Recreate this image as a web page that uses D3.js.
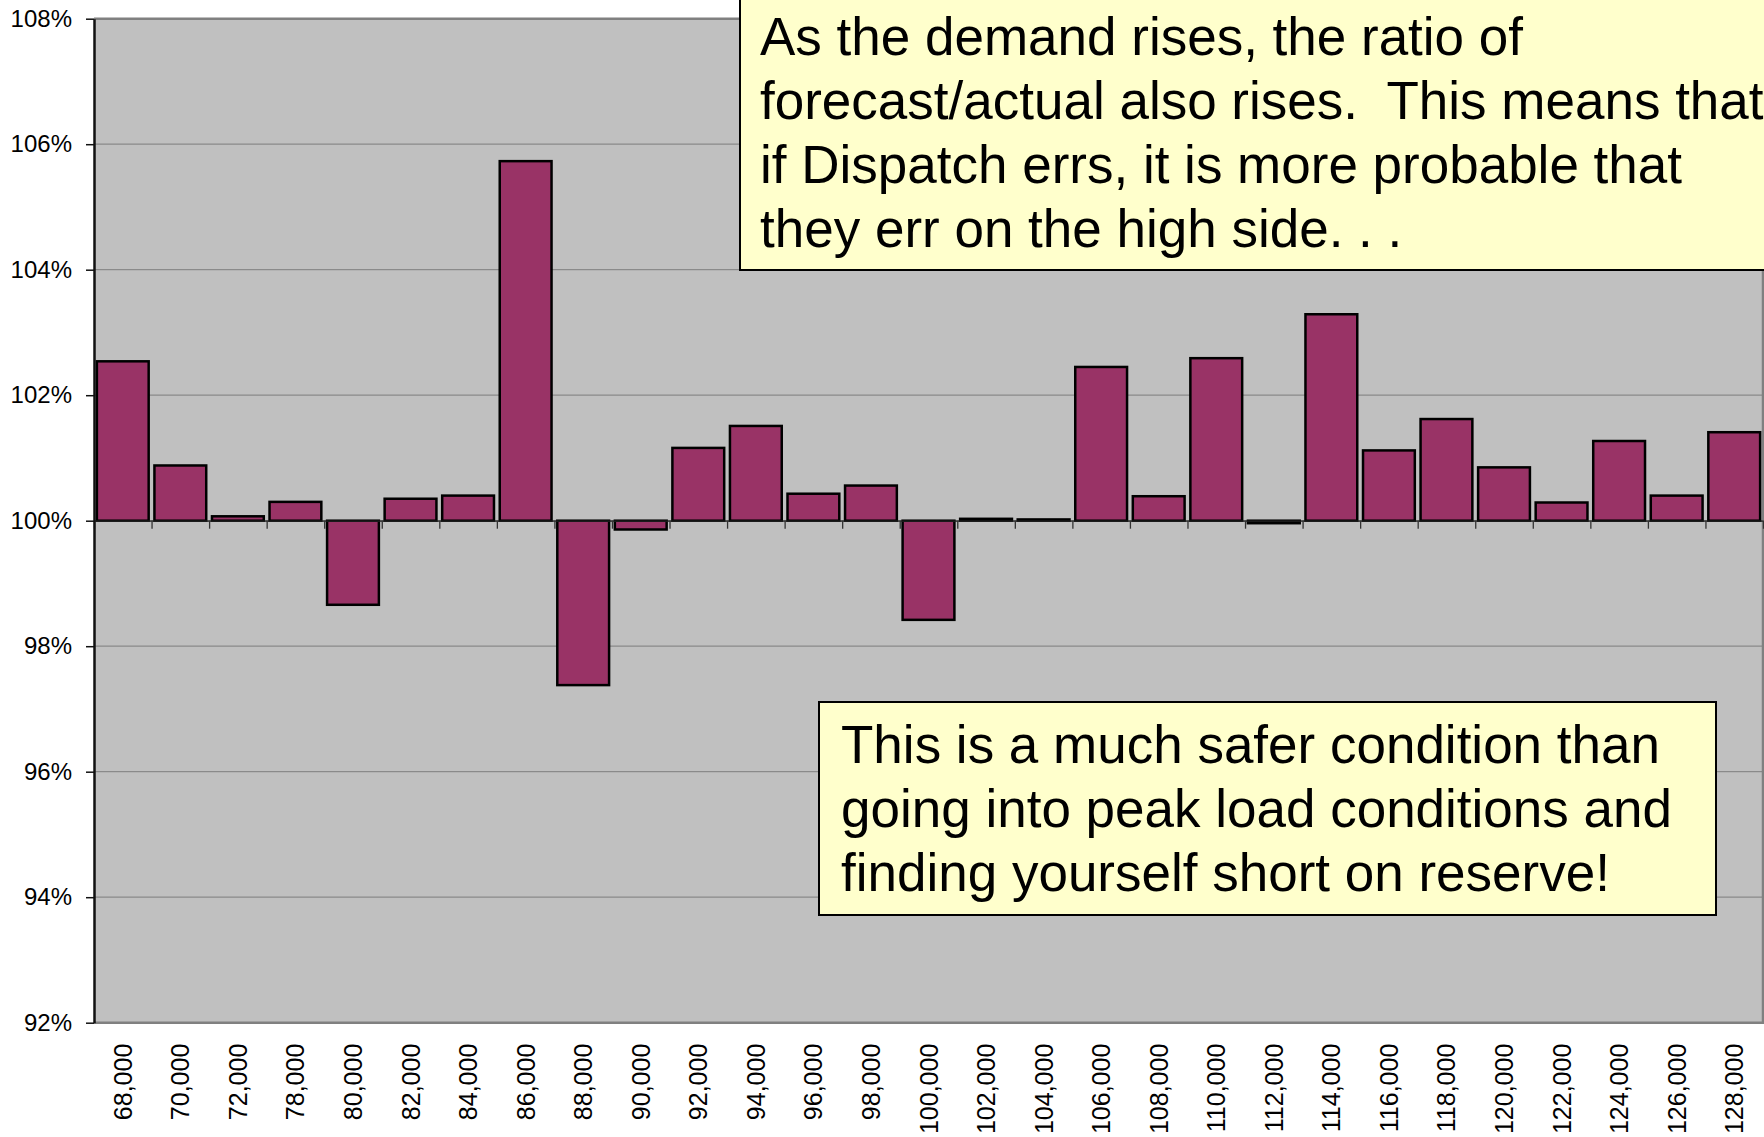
<!DOCTYPE html>
<html>
<head>
<meta charset="utf-8">
<script src="https://cdn.jsdelivr.net/npm/d3@7"></script>
<style>
  body { margin: 0; background: #fff; }
  text { font-family: "Liberation Sans", Arial, sans-serif; }
</style>
</head>
<body>
<svg id="chart"></svg>
<script>
// Data: demand bins and forecast/actual ratio
const categories = ["68,000", "70,000", "72,000", "78,000", "80,000", "82,000", "84,000", "86,000",
    "88,000", "90,000", "92,000", "94,000", "96,000", "98,000", "100,000", "102,000", "104,000",
    "106,000", "108,000", "110,000", "112,000", "114,000", "116,000", "118,000", "120,000",
    "122,000", "124,000", "126,000", "128,000"];
const ratios = [1.0254, 1.0088, 1.0007, 1.0030, 0.9866, 1.0035, 1.0040, 1.0573,
    0.9738, 0.9986, 1.0116, 1.0151, 1.0043, 1.0056, 0.9842, 1.0003, 1.0002,
    1.0245, 1.0039, 1.0259, 0.9996, 1.0329, 1.0112, 1.0162, 1.0085,
    1.0029, 1.0127, 1.0040, 1.0141];
const yTicks = [0.92, 0.94, 0.96, 0.98, 1.00, 1.02, 1.04, 1.06, 1.08];

const noteTop = ["As the demand rises, the ratio of",
    "forecast/actual also rises.  This means that",
    "if Dispatch errs, it is more probable that",
    "they err on the high side. . ."];
const noteBottom = ["This is a much safer condition than",
    "going into peak load conditions and",
    "finding yourself short on reserve!"];

const W = 1764, H = 1137;
const margin = { top: 18.7, right: 1, bottom: 114.3, left: 94 };
const width = W - margin.left - margin.right;
const height = H - margin.top - margin.bottom;

const svg = d3.select("#chart")
    .attr("width", W)
    .attr("height", H);

const g = svg.append("g")
    .attr("transform", `translate(${margin.left},${margin.top})`);

// Scales
const x = d3.scaleBand()
    .domain(categories)
    .range([0, width])
    .paddingInner(0.1)
    .paddingOuter(0.05);

const y = d3.scaleLinear()
    .domain([0.92, 1.08])
    .range([height, 0]);

// category boundaries for the tick marks on the 100% axis
const xb = d3.scaleLinear().domain([0, categories.length]).range([0, width]);

// plot background
g.append("rect")
    .attr("width", width)
    .attr("height", height)
    .attr("fill", "#c0c0c0");

// gridlines
g.append("g")
    .selectAll("line")
    .data(yTicks.filter(d => d > 0.92 && d < 1.08))
    .enter()
    .append("line")
    .attr("x1", 0)
    .attr("x2", width)
    .attr("y1", d => y(d))
    .attr("y2", d => y(d))
    .attr("stroke", "#8a8a8a")
    .attr("stroke-width", 1.3);

// plot border (top, right, bottom)
g.append("path")
    .attr("d", `M0,0H${width}V${height}H0`)
    .attr("fill", "none")
    .attr("stroke", "#808080")
    .attr("stroke-width", 2.5);

// bars
g.selectAll(".bar")
    .data(ratios)
    .enter()
    .append("rect")
    .attr("class", "bar")
    .attr("x", (d, i) => x(categories[i]))
    .attr("width", x.bandwidth())
    .attr("y", d => y(Math.max(d, 1)))
    .attr("height", d => Math.max(Math.abs(y(d) - y(1)), 0.5))
    .attr("fill", "#993366")
    .attr("stroke", "#000")
    .attr("stroke-width", 2.5);

// category axis crossing at 100%
const xAxis = g.append("g")
    .attr("transform", `translate(0,${y(1)})`)
    .call(d3.axisBottom(xb).ticks(categories.length).tickValues(d3.range(categories.length + 1))
        .tickFormat("").tickSize(8).tickSizeOuter(0));
xAxis.select(".domain").attr("stroke", "#222").attr("stroke-width", 1.3);
xAxis.selectAll(".tick line").attr("stroke", "#333").attr("stroke-width", 1.3);

// category labels below the plot
const xLab = g.append("g")
    .attr("transform", `translate(0,${height})`)
    .call(d3.axisBottom(x).tickSize(0));
xLab.select(".domain").remove();
xLab.selectAll("text")
    .attr("transform", "rotate(-90)")
    .attr("x", -21)
    .attr("y", 0)
    .attr("dy", "0.36em")
    .style("text-anchor", "end")
    .style("font-size", "25px")
    .style("font-family", "'Liberation Sans', Arial, sans-serif")
    .attr("fill", "#000");

// value axis
const yAxis = g.append("g")
    .call(d3.axisLeft(y).tickValues(yTicks).tickFormat(d3.format(".0%"))
        .tickSize(8).tickPadding(14).tickSizeOuter(0));
yAxis.select(".domain").attr("stroke", "#111").attr("stroke-width", 2.5);
yAxis.selectAll(".tick line").attr("stroke", "#111").attr("stroke-width", 1.5);
yAxis.selectAll("text")
    .style("font-size", "24px")
    .style("font-family", "'Liberation Sans', Arial, sans-serif")
    .attr("fill", "#000");

// annotation boxes
function note(lines, bx, by, bw, bh, tx, ty) {
    const n = svg.append("g");
    n.append("rect")
        .attr("x", bx).attr("y", by)
        .attr("width", bw).attr("height", bh)
        .attr("fill", "#ffffcc")
        .attr("stroke", "#000")
        .attr("stroke-width", 2);
    n.selectAll("text")
        .data(lines)
        .enter()
        .append("text")
        .attr("x", tx)
        .attr("y", (d, i) => ty + i * 64)
        .style("font-size", "53px")
        .style("white-space", "pre")
        .attr("fill", "#000")
        .text(d => d);
}

note(noteTop, 740, -10, 1100, 280, 760, 55);
note(noteBottom, 819, 702, 897, 213, 841, 763);
</script>
</body>
</html>
